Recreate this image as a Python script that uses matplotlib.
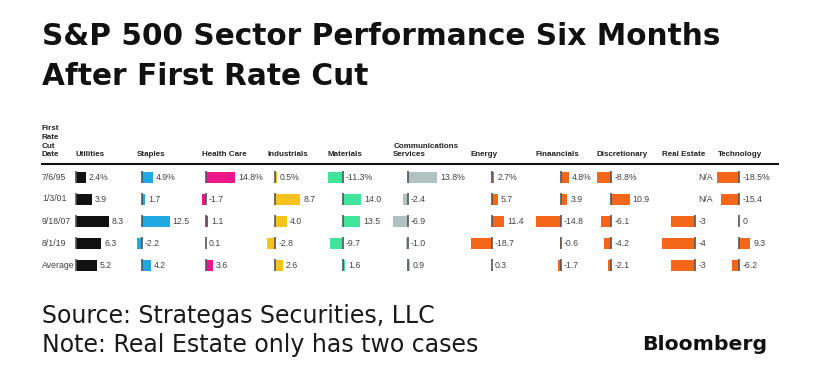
import numpy as np
import matplotlib
matplotlib.use("Agg")
import matplotlib.pyplot as plt

# table values, as printed
dates = ["7/6/95", "1/3/01", "9/18/07", "8/1/19", "Average"]
sectors = ["Utilities", "Staples", "Health Care", "Industrials", "Materials",
           "Communications\nServices", "Energy", "Finaancials", "Discretionary",
           "Real Estate", "Technology"]
utilities = ["2.4", "3.9", "8.3", "6.3", "5.2"]
staples = ["4.9", "1.7", "12.5", "-2.2", "4.2"]
health_care = ["14.8", "-1.7", "1.1", "0.1", "3.6"]
industrials = ["0.5", "8.7", "4.0", "-2.8", "2.6"]
materials = ["-11.3", "14.0", "13.5", "-9.7", "1.6"]
communications = ["13.8", "-2.4", "-6.9", "-1.0", "0.9"]
energy = ["2.7", "5.7", "11.4", "-18.7", "0.3"]
financials = ["4.8", "3.9", "-14.8", "-0.6", "-1.7"]
discretionary = ["-8.8", "10.9", "-6.1", "-4.2", "-2.1"]
real_estate = ["N/A", "N/A", "-3", "-4", "-3"]
technology = ["-18.5", "-15.4", "0", "9.3", "-6.2"]
columns = [utilities, staples, health_care, industrials, materials, communications,
           energy, financials, discretionary, real_estate, technology]

colors = ["#111111", "#1fa8e2", "#ec178a", "#f8c21c", "#42e39a", "#b0c3c0",
          "#f4661a", "#f4661a", "#f4661a", "#f4661a", "#f4661a"]
# layout in pixels (left edge of each column, bar span width)
col_left = [76, 136.7, 202.3, 267.3, 328, 393.3, 471, 536, 596.7, 662.3, 717.5]
col_width = [33, 33, 33, 33, 33, 44, 33, 33, 33, 33, 33]

W, H = 820, 385
fig = plt.figure(figsize=(W / 100, H / 100), dpi=100)
fig.patch.set_facecolor("white")

def fx(px):
    return px / W

def fy(py):
    return 1 - py / H

big_font = "DejaVu Sans"
small_font = "Liberation Sans"
fig.text(fx(42), fy(45), "S&P 500 Sector Performance Six Months", fontsize=21.3,
         fontweight="bold", family=big_font, va="baseline", color="#111111")
fig.text(fx(42), fy(85), "After First Rate Cut", fontsize=21.3,
         fontweight="bold", family=big_font, va="baseline", color="#111111")

# header row
hdr = dict(fontsize=5.8, fontweight="bold", family=small_font, va="bottom",
           color="#222222", linespacing=1.3)
fig.text(fx(42), fy(158), "First\nRate\nCut\nDate", **hdr)
for name, left in zip(sectors, col_left):
    fig.text(fx(left), fy(158), name, **hdr)

fig.add_artist(plt.Line2D([fx(42), fx(778)], [fy(164), fy(164)],
                          color="#111111", lw=1.5))

row_top, row_h = 166, 22
n = len(dates)
for i, d in enumerate(dates):
    fig.text(fx(42), fy(row_top + row_h * (i + 0.5)), d, fontsize=6.3,
             family=small_font, va="center", color="#444444")

for labels, color, left, width in zip(columns, colors, col_left, col_width):
    vals = np.array([np.nan if s == "N/A" else float(s) for s in labels])
    lo = min(0, np.nanmin(vals))
    hi = max(0, np.nanmax(vals))
    ax = fig.add_axes([fx(left), fy(row_top + row_h * n), width / W, row_h * n / H])
    ax.set_xlim(lo, hi)
    ax.set_ylim(n - 0.5, -0.5)
    ax.axis("off")
    ypos = np.arange(n)
    ax.barh(ypos, np.nan_to_num(vals), height=0.5, color=color, clip_on=False)
    for y, v, s in zip(ypos, vals, labels):
        if not np.isnan(v):
            ax.vlines(0, y - 0.28, y + 0.28, color="#555555", lw=1.2, clip_on=False)
        text = s + "%" if (y == 0 and s != "N/A") else s
        ax.annotate(text, xy=(max(0, np.nan_to_num(v)), y), xytext=(2.2, 0),
                    textcoords="offset points", fontsize=6.3, family=small_font,
                    va="center", ha="left", color="#444444", annotation_clip=False)

note = dict(fontsize=17, family=big_font, va="baseline", color="#1a1a1a")
fig.text(fx(42), fy(323), "Source: Strategas Securities, LLC", **note)
fig.text(fx(42), fy(352), "Note: Real Estate only has two cases", **note)
fig.text(fx(642), fy(350), "Bloomberg", fontsize=14.7, fontweight="bold",
         family=big_font, va="baseline", color="#111111")

fig.savefig("out.png", dpi=100)
